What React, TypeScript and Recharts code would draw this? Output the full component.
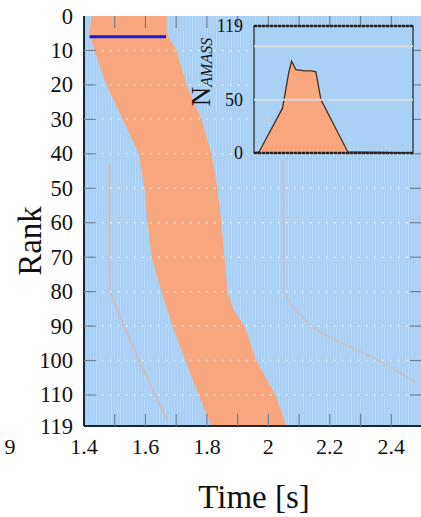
import React from 'react'
import {
  ComposedChart,
  Area,
  Line,
  XAxis,
  YAxis,
  CartesianGrid,
  ReferenceArea,
  ReferenceLine,
} from 'recharts'

const SERIF = '"Liberation Serif", "Times New Roman", serif'
const SKY = '#a9d1f5'
const SALMON = '#f9a77e'
const INK = '#1d2733'
const TICK = '#6f8294'

// orange band: first / last time each rank is active
const ranks = [0, 5, 10, 20, 30, 40, 50, 60, 70, 80, 85, 90, 100, 110, 119]
const bandStart = [1.425, 1.418, 1.434, 1.473, 1.526, 1.578, 1.597, 1.607, 1.62, 1.652, 1.67, 1.688, 1.73, 1.773, 1.815]
const bandEnd = [1.669, 1.669, 1.701, 1.734, 1.782, 1.815, 1.834, 1.847, 1.857, 1.867, 1.885, 1.922, 1.961, 2.023, 2.059]

// blue marker line
const leaderRanks = [6, 6]
const leaderTimes = [1.418, 1.667]

// faint traces
const traceARanks = [43, 80, 90, 100, 117]
const traceATimes = [1.483, 1.485, 1.53, 1.58, 1.669]
const traceBRanks = [42, 80, 84.5, 90.3, 93.2, 97, 100, 106.5]
const traceBTimes = [2.049, 2.05, 2.079, 2.143, 2.199, 2.287, 2.362, 2.482]

const timeTicks = [1.4, 1.5, 1.6, 1.7, 1.8, 1.9, 2.0, 2.1, 2.2, 2.3, 2.4, 2.5]
const rankTicks = [0, 5, 10, 20, 30, 40, 50, 60, 70, 80, 90, 100, 110, 119]
const gridRanks = [10, 20, 30, 40, 50, 60, 70, 80, 90, 100, 110]

// inset: N_AMASS over time
const insetTimes = [1.4, 1.435, 1.597, 1.64, 1.66, 1.69, 1.75, 1.8, 1.828, 1.863, 2.049, 2.5]
const insetCounts = [0, 1, 42, 75, 86, 78, 77, 77, 76, 50, 1, 0]
const insetTicks = [0, 50, 119]
const insetGrid = [50, 100]
const spikeTimes = [1.49, 1.505]
const spikeCounts = [40, 26]

const bandRows = ranks.map((r, i) => ({ rank: r, band: [bandStart[i], bandEnd[i]] }))
const leaderRows = leaderRanks.map((r, i) => ({ rank: r, t: leaderTimes[i] }))
const traceARows = traceARanks.map((r, i) => ({ rank: r, t: traceATimes[i] }))
const traceBRows = traceBRanks.map((r, i) => ({ rank: r, t: traceBTimes[i] }))
const insetRows = insetTimes.map((t, i) => ({ t, n: insetCounts[i] }))
const spikeRows = spikeTimes.map((t, i) => ({ t, n: spikeCounts[i] }))

const PLOT_LEFT = 84
const PLOT_RIGHT = 422
const PLOT_TOP = 16
const PLOT_BOTTOM = 426
const INSET_LEFT = 200
const INSET_TOP = 15

function RankTick(props: any) {
  const { y, payload } = props
  const v = payload.value
  const edge = v === 0 || v === 119
  return (
    <g>
      {gridRanks.includes(v) && (
        <line x1={PLOT_LEFT + 2} x2={PLOT_RIGHT} y1={y} y2={y} stroke="#fff" strokeWidth={1.5} strokeDasharray="1.5 6.5" opacity={0.75} />
      )}
      {!edge && <line x1={PLOT_LEFT} x2={PLOT_LEFT + 12} y1={y} y2={y} stroke={TICK} strokeWidth={1.2} />}
      {!edge && <line x1={PLOT_RIGHT - 12} x2={PLOT_RIGHT} y1={y} y2={y} stroke={TICK} strokeWidth={1.2} />}
      <text x={73} y={y} textAnchor="end" dominantBaseline="central" fontSize={22.5} fontFamily={SERIF} fill="#111">
        {v}
      </text>
    </g>
  )
}

function TimeTick(props: any) {
  const { x, payload } = props
  const v = payload.value
  const k = Math.round(v * 10)
  const edge = k === 14 || k === 25
  return (
    <g>
      {!edge && <line x1={x} x2={x} y1={PLOT_BOTTOM - 12} y2={PLOT_BOTTOM} stroke={TICK} strokeWidth={1.2} />}
      {!edge && <line x1={x} x2={x} y1={PLOT_TOP} y2={PLOT_TOP + 12} stroke={TICK} strokeWidth={1.2} />}
      {k % 2 === 0 && (
        <text x={x} y={446} textAnchor="middle" dominantBaseline="central" fontSize={22} fontFamily={SERIF} fill="#111">
          {String(Number(v.toFixed(1)))}
        </text>
      )}
    </g>
  )
}

function InsetTick(props: any) {
  const { y, payload } = props
  return (
    <text x={243 - INSET_LEFT} y={y} textAnchor="end" dominantBaseline="central" fontSize={18} fontFamily={SERIF} fill="#111">
      {payload.value}
    </text>
  )
}

export default function App() {
  return (
    <div style={{ position: 'absolute', left: 0, top: 0, width: 421, height: 517, overflow: 'hidden', background: '#fff' }}>
      <svg width={0} height={0} style={{ position: 'absolute' }}>
        <defs>
          <pattern id="skyStripes" width={3} height={10} patternUnits="userSpaceOnUse">
            <rect width={3} height={10} fill="#a8d0f5" />
            <rect width={1} height={10} fill="#b2d6f7" />
          </pattern>
        </defs>
      </svg>

      <div style={{ position: 'absolute', left: 0, top: 0 }}>
        <ComposedChart
          width={440}
          height={517}
          layout="vertical"
          data={bandRows}
          margin={{ top: PLOT_TOP, right: 440 - PLOT_RIGHT, bottom: 517 - PLOT_BOTTOM - 30, left: 0 }}
        >
          <CartesianGrid fill="url(#skyStripes)" horizontal={false} vertical={false} />
          <Area dataKey="band" type="linear" fill={SALMON} fillOpacity={1} stroke="none" isAnimationActive={false} />
          <Line data={traceARows} dataKey="t" stroke={SALMON} strokeOpacity={0.45} strokeWidth={2} dot={false} isAnimationActive={false} />
          <Line data={traceBRows} dataKey="t" stroke={SALMON} strokeOpacity={0.35} strokeWidth={2} dot={false} isAnimationActive={false} />
          <Line data={leaderRows} dataKey="t" stroke="#1b1bd6" strokeWidth={3} dot={false} isAnimationActive={false} />
          <XAxis
            type="number"
            domain={[1.4, 2.5]}
            ticks={timeTicks}
            allowDataOverflow
            height={30}
            tickLine={false}
            axisLine={{ stroke: INK, strokeWidth: 2 }}
            tick={<TimeTick />}
          />
          <YAxis
            type="number"
            dataKey="rank"
            domain={[0, 119]}
            ticks={rankTicks}
            allowDataOverflow
            width={PLOT_LEFT}
            tickLine={false}
            axisLine={{ stroke: INK, strokeWidth: 2 }}
            tick={<RankTick />}
          />
        </ComposedChart>
      </div>

      <div style={{ position: 'absolute', left: INSET_LEFT, top: INSET_TOP }}>
        <ComposedChart width={230} height={150} data={insetRows} margin={{ top: 11, right: 17, bottom: 12, left: 0 }}>
          <CartesianGrid fill={SKY} vertical={false} horizontal={false} />
          {insetGrid.map(g => (
            <ReferenceLine key={g} y={g} stroke="#d9d9d9" strokeWidth={2} />
          ))}
          <Area dataKey="n" type="linear" fill={SALMON} fillOpacity={1} stroke="#4a2c1e" strokeWidth={1.3} isAnimationActive={false} />
          <Line data={spikeRows} dataKey="n" stroke="#d0d0d0" strokeWidth={1} dot={false} isAnimationActive={false} />
          <ReferenceLine y={119} stroke="#2a2222" strokeWidth={2.5} strokeDasharray="3 1" />
          <ReferenceLine y={0} stroke="#2a2222" strokeWidth={2.5} strokeDasharray="3 1" />
          <ReferenceArea x1={1.4} x2={2.5} y1={0} y2={119} fill="none" stroke="#222" strokeWidth={1.2} />
          <XAxis type="number" dataKey="t" domain={[1.4, 2.5]} hide allowDataOverflow />
          <YAxis
            type="number"
            domain={[0, 119]}
            ticks={insetTicks}
            allowDataOverflow
            width={54}
            tickLine={false}
            axisLine={false}
            tick={<InsetTick />}
          />
        </ComposedChart>
      </div>

      <svg width={421} height={517} style={{ position: 'absolute', left: 0, top: 0, pointerEvents: 'none' }}>
        <text x={30} y={241} transform="rotate(-90 30 241)" textAnchor="middle" dominantBaseline="central" fontSize={33} fontFamily={SERIF} fill="#111">
          Rank
        </text>
        <text x={254} y={497} textAnchor="middle" dominantBaseline="central" fontSize={33} fontFamily={SERIF} fill="#111">
          Time [s]
        </text>
        <text x={10} y={446} textAnchor="middle" dominantBaseline="central" fontSize={22} fontFamily={SERIF} fill="#111">
          9
        </text>
        <text transform="translate(210 72) rotate(-90)" textAnchor="middle" fontFamily={SERIF} fill="#111">
          <tspan fontSize={27}>N</tspan>
          <tspan fontSize={16} fontStyle="italic" dy={2}>AMASS</tspan>
        </text>
      </svg>
    </div>
  )
}
